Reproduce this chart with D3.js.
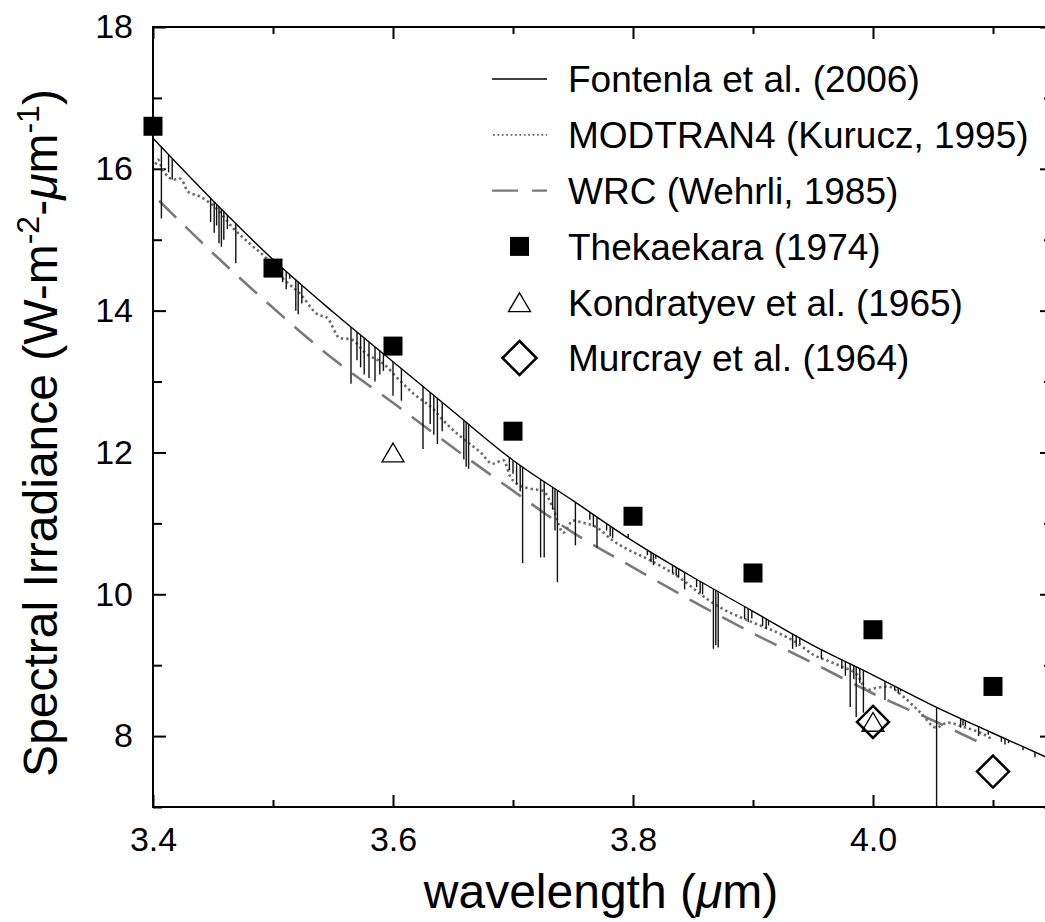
<!DOCTYPE html>
<html lang="en">
<head>
<meta charset="utf-8">
<title>Solar spectral irradiance 3.4-4.15 um</title>
<style>
  body { margin: 0; background: #fff; }
  svg { display: block; }
  text { font-family: "Liberation Sans", Arial, Helvetica, sans-serif; fill: #000; }
  .axis path { display: none; }
  .axis line { stroke: #000; stroke-width: 2; }
  .axis text { font-size: 34px; }
</style>
</head>
<body>
<div id="chart"></div>
<script src="https://cdn.jsdelivr.net/npm/d3@7"></script>
<script>
// ---- data ----
// Fontenla et al. (2006): smooth continuum + absorption lines (wavelength, bottom value)
var fontenlaCont = [
  [3.40, 16.43], [3.45, 15.55], [3.50, 14.72], [3.55, 13.98], [3.60, 13.28],
  [3.65, 12.58], [3.70, 11.89], [3.75, 11.32], [3.80, 10.75], [3.85, 10.24],
  [3.90, 9.76], [3.95, 9.28], [4.00, 8.86], [4.05, 8.43], [4.10, 8.04], [4.15, 7.66]
];
var fontenlaLines = [
  [3.407, 15.30], [3.413, 15.95], [3.416, 15.85],
  [3.448, 15.25], [3.451, 15.10], [3.453, 15.20], [3.455, 14.95], [3.457, 14.90],
  [3.459, 15.00], [3.462, 15.15], [3.469, 14.67],
  [3.508, 14.40], [3.511, 14.30], [3.514, 14.45], [3.519, 14.00], [3.521, 13.95], [3.524, 14.10],
  [3.565, 12.97], [3.570, 13.30], [3.573, 13.20], [3.576, 13.10], [3.580, 13.05],
  [3.585, 13.00], [3.589, 13.10], [3.592, 13.15], [3.600, 12.80], [3.607, 12.73],
  [3.625, 12.05], [3.631, 12.40], [3.634, 12.25], [3.637, 12.12], [3.641, 12.30],
  [3.659, 11.90], [3.661, 11.80], [3.663, 11.77],
  [3.697, 11.75], [3.700, 11.70], [3.703, 11.55], [3.706, 11.45], [3.708, 10.44],
  [3.723, 10.52], [3.726, 10.52], [3.733, 11.20], [3.735, 10.90], [3.737, 10.17],
  [3.752, 10.69], [3.764, 11.05], [3.767, 10.95], [3.770, 10.66],
  [3.778, 10.90], [3.781, 10.82], [3.783, 10.79], [3.796, 10.85],
  [3.812, 10.55], [3.815, 10.45], [3.817, 10.41], [3.819, 10.50],
  [3.833, 10.30], [3.836, 10.26], [3.838, 10.24], [3.843, 10.07],
  [3.853, 10.10], [3.856, 10.02], [3.858, 10.00],
  [3.867, 9.23], [3.869, 9.28], [3.871, 9.25],
  [3.893, 9.65], [3.896, 9.61], [3.899, 9.66],
  [3.908, 9.55], [3.911, 9.51], [3.913, 9.56],
  [3.933, 9.23], [3.936, 9.26], [3.939, 9.30], [3.957, 9.09],
  [3.974, 8.95], [3.977, 8.85], [3.981, 8.41], [3.984, 8.80], [3.986, 8.27], [3.989, 8.75], [3.992, 8.33],
  [4.010, 8.51], [4.018, 8.65], [4.021, 8.60], [4.023, 8.63],
  [4.053, 7.00],
  [4.073, 8.12], [4.075, 8.15], [4.077, 8.14], [4.088, 8.00], [4.096, 8.02],
  [4.107, 7.92], [4.110, 7.88], [4.113, 7.90],
  [4.125, 7.80], [4.135, 7.70]
];
// MODTRAN4 (Kurucz, 1995)
var modtran = [
  [3.402, 16.06], [3.404, 16.13], [3.408, 15.99], [3.417, 15.85], [3.423, 15.86],
  [3.429, 15.68], [3.439, 15.61], [3.453, 15.44], [3.467, 15.16], [3.481, 14.94],
  [3.495, 14.73], [3.508, 14.46], [3.523, 14.23], [3.537, 13.95], [3.545, 13.90],
  [3.556, 13.61], [3.564, 13.60], [3.578, 13.39], [3.592, 13.25], [3.606, 13.01],
  [3.617, 12.83], [3.633, 12.62], [3.642, 12.45], [3.658, 12.20], [3.673, 12.00],
  [3.683, 11.84], [3.692, 11.89], [3.698, 11.65], [3.703, 11.56], [3.714, 11.49],
  [3.725, 11.46], [3.733, 11.23], [3.742, 10.87], [3.750, 11.04], [3.758, 11.01],
  [3.770, 10.94], [3.783, 10.76], [3.797, 10.62], [3.812, 10.50], [3.825, 10.38],
  [3.839, 10.23], [3.862, 9.93], [3.875, 9.79], [3.889, 9.68], [3.903, 9.58],
  [3.923, 9.44], [3.937, 9.31], [3.950, 9.15], [3.964, 9.05], [3.974, 8.98],
  [3.987, 8.86], [3.995, 8.65], [4.003, 8.68], [4.012, 8.70], [4.025, 8.56],
  [4.039, 8.34], [4.053, 8.12], [4.062, 8.19], [4.075, 8.13], [4.089, 8.05], [4.100, 7.95]
];
// WRC (Wehrli, 1985)
var wrc = [
  [3.405, 15.55], [3.45, 14.81], [3.50, 14.04], [3.55, 13.32], [3.60, 12.70],
  [3.65, 12.07], [3.70, 11.46], [3.75, 10.87], [3.80, 10.38], [3.85, 9.90],
  [3.90, 9.45], [3.95, 9.03], [4.00, 8.60], [4.05, 8.22], [4.09, 7.90]
];
var thekaekara = [[3.4, 16.6], [3.5, 14.6], [3.6, 13.5], [3.7, 12.3], [3.8, 11.1], [3.9, 10.3], [4.0, 9.5], [4.1, 8.7]];
var kondratyev = [[3.6, 12.0], [4.0, 8.2]];
var murcray = [[4.0, 8.2], [4.1, 7.5]];

var xMajor = [3.4, 3.6, 3.8, 4.0];
var xMinor = [3.5, 3.7, 3.9, 4.1];
var yMajor = [8, 10, 12, 14, 16, 18];
var yMinor = [7, 9, 11, 13, 15, 17];

var legendLabels = [
  "Fontenla et al. (2006)", "MODTRAN4 (Kurucz, 1995)", "WRC (Wehrli, 1985)",
  "Thekaekara (1974)", "Kondratyev et al. (1965)", "Murcray et al. (1964)"
];

// ---- layout ----
var width = 1045, height = 922;
var pLeft = 153, pRight = 1053, pTop = 27, pBottom = 807;

var svg = d3.select("#chart").append("svg")
    .attr("width", width)
    .attr("height", height);

var x = d3.scaleLinear().domain([3.4, 4.15]).range([pLeft, pRight]);
var y = d3.scaleLinear().domain([7, 18]).range([pBottom, pTop]);

svg.append("clipPath").attr("id", "plotclip")
  .append("rect").attr("x", pLeft).attr("y", pTop).attr("width", pRight - pLeft).attr("height", pBottom - pTop);

// axes (ticks inside on all four sides)
function addAxis(axis, tx, ty) {
  return svg.append("g").attr("class", "axis")
    .attr("transform", "translate(" + tx + "," + ty + ")").call(axis);
}
addAxis(d3.axisBottom(x).tickValues(xMajor).tickSize(-12).tickPadding(20).tickFormat(d3.format(".1f")), 0, pBottom);
addAxis(d3.axisBottom(x).tickValues(xMinor).tickSize(-7).tickFormat(""), 0, pBottom);
addAxis(d3.axisTop(x).tickValues(xMajor).tickSize(-12).tickFormat(""), 0, pTop);
addAxis(d3.axisTop(x).tickValues(xMinor).tickSize(-7).tickFormat(""), 0, pTop);
addAxis(d3.axisLeft(y).tickValues(yMajor).tickSize(-13).tickPadding(20).tickFormat(d3.format("d")), pLeft, 0);
addAxis(d3.axisLeft(y).tickValues(yMinor).tickSize(-9).tickFormat(""), pLeft, 0);
addAxis(d3.axisRight(y).tickValues(yMajor).tickSize(-13).tickFormat(""), pRight, 0);
addAxis(d3.axisRight(y).tickValues(yMinor).tickSize(-9).tickFormat(""), pRight, 0);

svg.append("rect")
    .attr("x", pLeft).attr("y", pTop)
    .attr("width", pRight - pLeft).attr("height", pBottom - pTop)
    .attr("fill", "none").attr("stroke", "#000").attr("stroke-width", 2);

var plot = svg.append("g").attr("clip-path", "url(#plotclip)");

var line = d3.line()
    .x(function(d) { return x(d[0]); })
    .y(function(d) { return y(d[1]); })
    .curve(d3.curveMonotoneX);

// WRC dashed
plot.append("path").datum(wrc)
    .attr("d", line)
    .attr("fill", "none").attr("stroke", "#7a7a7a").attr("stroke-width", 2.6)
    .attr("stroke-dasharray", "24,13");

// MODTRAN dotted
plot.append("path").datum(modtran)
    .attr("d", line)
    .attr("fill", "none").attr("stroke", "#6a6a6a").attr("stroke-width", 2.6)
    .attr("stroke-dasharray", "2.4,3");

// Fontenla continuum and lines
plot.append("path").datum(fontenlaCont)
    .attr("d", line)
    .attr("fill", "none").attr("stroke", "#000").attr("stroke-width", 1.4);

var contX = fontenlaCont.map(function(d) { return d[0]; });
var contY = fontenlaCont.map(function(d) { return d[1]; });
var contAt = d3.scaleLinear().domain(contX).range(contY);

plot.selectAll(".absline").data(fontenlaLines).enter().append("line")
    .attr("class", "absline")
    .attr("x1", function(d) { return x(d[0]); })
    .attr("x2", function(d) { return x(d[0]); })
    .attr("y1", function(d) { return y(contAt(d[0])); })
    .attr("y2", function(d) { return y(d[1]); })
    .attr("stroke", "#111").attr("stroke-width", 1.4);

// markers
function square(g, cx, cy, s) {
  g.append("rect").attr("x", cx - s / 2).attr("y", cy - s / 2).attr("width", s).attr("height", s).attr("fill", "#000");
}
function triangle(g, cx, cy, w) {
  var h = w * 0.85;
  g.append("path")
    .attr("d", "M" + (cx - w / 2) + "," + (cy + h / 2) + "L" + cx + "," + (cy - h / 2) + "L" + (cx + w / 2) + "," + (cy + h / 2) + "Z")
    .attr("fill", "none").attr("stroke", "#000").attr("stroke-width", 1.3);
}
function diamond(g, cx, cy, w) {
  var r = w / 2;
  g.append("path")
    .attr("d", "M" + cx + "," + (cy - r) + "L" + (cx + r) + "," + cy + "L" + cx + "," + (cy + r) + "L" + (cx - r) + "," + cy + "Z")
    .attr("fill", "none").attr("stroke", "#000").attr("stroke-width", 2.5);
}

var marks = svg.append("g");
thekaekara.forEach(function(d) { square(marks, x(d[0]), y(d[1]), 19); });
murcray.forEach(function(d) { diamond(marks, x(d[0]), y(d[1]), 32); });
kondratyev.forEach(function(d) { triangle(marks, x(d[0]), y(d[1]), 22); });

// legend
var leg = svg.append("g");
var legY0 = 79, legDy = 55.8, sx0 = 492, sx1 = 547, tx = 568;
legendLabels.forEach(function(t, i) {
  var cy = legY0 + i * legDy;
  var cx = (sx0 + sx1) / 2;
  if (i === 0) leg.append("line").attr("x1", sx0).attr("x2", sx1).attr("y1", cy).attr("y2", cy).attr("stroke", "#000").attr("stroke-width", 1.3);
  if (i === 1) leg.append("line").attr("x1", sx0 + 1).attr("x2", sx1).attr("y1", cy).attr("y2", cy).attr("stroke", "#666").attr("stroke-width", 1.8).attr("stroke-dasharray", "1.8,2.6");
  if (i === 2) leg.append("line").attr("x1", sx0).attr("x2", sx1).attr("y1", cy).attr("y2", cy).attr("stroke", "#7a7a7a").attr("stroke-width", 2.4).attr("stroke-dasharray", "26,14");
  if (i === 3) square(leg, cx, cy, 19);
  if (i === 4) triangle(leg, cx, cy, 22);
  if (i === 5) diamond(leg, cx, cy, 34);
  leg.append("text").attr("x", tx).attr("y", cy).attr("dy", "0.36em")
    .style("font-size", "37px").text(t);
});

// axis titles
var xt = svg.append("text")
    .attr("x", 601).attr("y", 908)
    .attr("text-anchor", "middle")
    .style("font-size", "48px");
xt.append("tspan").text("wavelength (");
xt.append("tspan").style("font-style", "italic").text("\u03bc");
xt.append("tspan").text("m)");

var yt = svg.append("text")
    .attr("transform", "translate(57,433) rotate(-90)")
    .attr("text-anchor", "middle")
    .style("font-size", "48px");
yt.append("tspan").text("Spectral Irradiance (W-m");
yt.append("tspan").attr("dy", -18).style("font-size", "32px").text("-2");
yt.append("tspan").attr("dy", 18).text("-");
yt.append("tspan").style("font-style", "italic").text("\u03bc");
yt.append("tspan").text("m");
yt.append("tspan").attr("dy", -18).style("font-size", "32px").text("-1");
yt.append("tspan").attr("dy", 18).text(")");
</script>
</body>
</html>
